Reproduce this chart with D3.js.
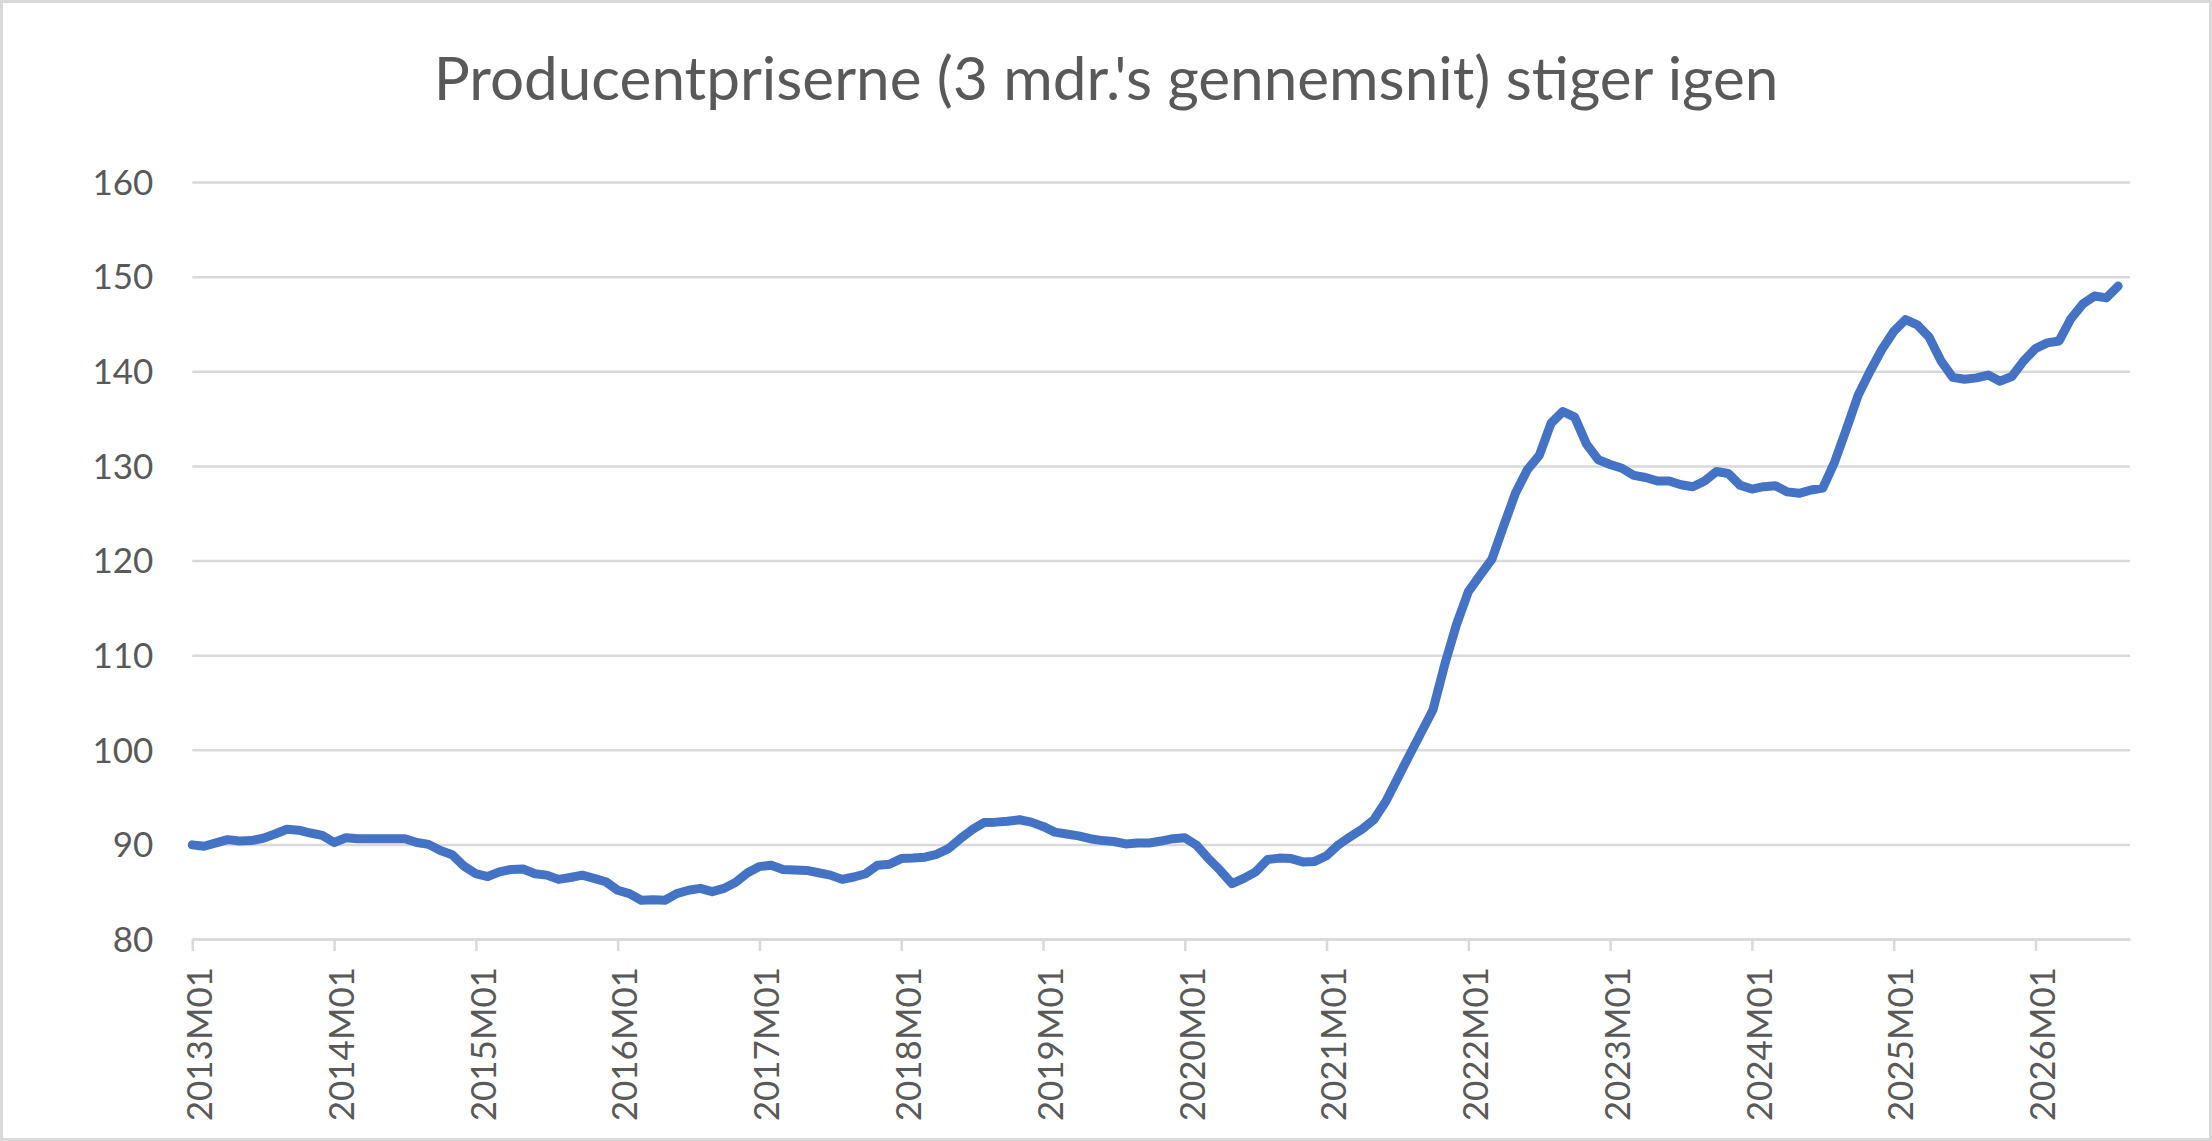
<!DOCTYPE html>
<html>
<head>
<meta charset="utf-8">
<script src="https://cdn.jsdelivr.net/npm/d3@7"></script>
<style>
  html, body { margin: 0; padding: 0; background: #ffffff; }
  svg { display: block; }
</style>
</head>
<body>
<svg id="chart" width="2212" height="1141"></svg>
<script>
// ---------------- DATA ----------------
const titleText = "Producentpriserne (3 mdr.'s gennemsnit) stiger igen";
const years = [2013, 2014, 2015, 2016, 2017, 2018, 2019, 2020, 2021, 2022, 2023, 2024, 2025, 2026];
const months = ["01","02","03","04","05","06","07","08","09","10","11","12"];
// monthly categories 2013M01 .. 2026M09 (last category without a value)
const categories = [];
years.forEach(yr => months.forEach(m => {
  if (!(yr === 2026 && +m > 9)) categories.push(yr + "M" + m);
}));
const tickLabels = ["2013M01","2014M01","2015M01","2016M01","2017M01","2018M01","2019M01",
                    "2020M01","2021M01","2022M01","2023M01","2024M01","2025M01","2026M01"];
const yTicks = [80, 90, 100, 110, 120, 130, 140, 150, 160];

const values2013 = [89.95, 89.8, 90.15, 90.5, 90.35, 90.4, 90.65, 91.1, 91.6, 91.5, 91.2, 90.95];
const values2014 = [90.2, 90.7, 90.6, 90.6, 90.6, 90.6, 90.6, 90.2, 90.0, 89.35, 88.9, 87.7];
const values2015 = [86.9, 86.6, 87.1, 87.35, 87.4, 86.9, 86.75, 86.3, 86.5, 86.75, 86.4, 86.05];
const values2016 = [85.15, 84.8, 84.1, 84.15, 84.1, 84.8, 85.15, 85.35, 85.0, 85.35, 86.0, 87.0];
const values2017 = [87.65, 87.8, 87.35, 87.3, 87.25, 87.0, 86.75, 86.3, 86.55, 86.9, 87.8, 87.9];
const values2018 = [88.5, 88.55, 88.65, 88.95, 89.55, 90.6, 91.55, 92.3, 92.35, 92.45, 92.6, 92.35];
const values2019 = [91.9, 91.3, 91.1, 90.9, 90.6, 90.4, 90.3, 90.05, 90.15, 90.15, 90.35, 90.6];
const values2020 = [90.7, 89.9, 88.5, 87.25, 85.85, 86.4, 87.1, 88.4, 88.55, 88.5, 88.15, 88.2];
const values2021 = [88.8, 89.95, 90.8, 91.6, 92.6, 94.5, 96.95, 99.4, 101.8, 104.2, 109.0, 113.25];
const values2022 = [116.7, 118.45, 120.15, 123.7, 127.15, 129.6, 131.1, 134.5, 135.75, 135.15, 132.3, 130.65];
const values2023 = [130.15, 129.75, 129.0, 128.77, 128.4, 128.4, 128.0, 127.8, 128.4, 129.4, 129.2, 127.95];
const values2024 = [127.55, 127.8, 127.9, 127.25, 127.1, 127.45, 127.65, 130.4, 133.9, 137.5, 140.0, 142.3];
const values2025 = [144.2, 145.45, 144.9, 143.6, 141.1, 139.35, 139.15, 139.3, 139.6, 138.95, 139.45, 141.1];
const values2026 = [142.4, 143.0, 143.2, 145.55, 147.1, 147.95, 147.75, 149.0];

const values = [].concat(values2013, values2014, values2015, values2016, values2017, values2018,
  values2019, values2020, values2021, values2022, values2023, values2024, values2025, values2026);

// ---------------- LAYOUT ----------------
const W = 2212, H = 1141;
const plot = { left: 192.3, right: 2130, top: 182, bottom: 939 };
const textColor = "#595959";
const gridColor = "#d9d9d9";
const lineColor = "#4472c4";
const fontFamily = "Lato, 'Open Sans', 'DejaVu Sans', sans-serif";

const svg = d3.select("#chart");

svg.append("rect")
  .attr("x", 1.5).attr("y", 1.5)
  .attr("width", W - 3).attr("height", H - 3)
  .attr("fill", "#ffffff")
  .attr("stroke", gridColor).attr("stroke-width", 3);

const x = d3.scaleLinear()
  .domain([0, categories.length - 1])
  .range([plot.left, plot.right]);

const y = d3.scaleLinear()
  .domain([80, 160])
  .range([plot.bottom, plot.top]);

// Y axis with gridlines
const yAxisG = svg.append("g")
  .attr("transform", `translate(${plot.left},0)`)
  .call(d3.axisLeft(y)
    .tickValues(yTicks)
    .tickSize(-(plot.right - plot.left))
    .tickPadding(39)
    .tickFormat(d3.format("d")));
yAxisG.select(".domain").remove();
yAxisG.selectAll(".tick line")
  .attr("stroke", gridColor).attr("stroke-width", 2.5);
yAxisG.selectAll(".tick text")
  .attr("fill", textColor)
  .attr("font-family", fontFamily)
  .attr("font-size", 35)
  .attr("dy", "0.35em");

// X axis
const tickIdx = tickLabels.map(l => categories.indexOf(l));
const xAxisG = svg.append("g")
  .attr("transform", `translate(0,${plot.bottom})`)
  .call(d3.axisBottom(x)
    .tickValues(tickIdx)
    .tickSizeInner(12)
    .tickSizeOuter(0)
    .tickFormat(i => categories[i]));
xAxisG.select(".domain")
  .attr("stroke", gridColor).attr("stroke-width", 2.5);
xAxisG.selectAll(".tick line")
  .attr("stroke", gridColor).attr("stroke-width", 2.5);
xAxisG.selectAll(".tick text")
  .attr("fill", textColor)
  .attr("font-family", fontFamily)
  .attr("font-size", 35)
  .attr("text-anchor", "end")
  .attr("transform", "rotate(-90)")
  .attr("x", -28)
  .attr("y", 0)
  .attr("dy", "0.55em");

// Line
const line = d3.line()
  .x((d, i) => x(i))
  .y(d => y(d));

svg.append("path")
  .datum(values)
  .attr("d", line)
  .attr("fill", "none")
  .attr("stroke", lineColor)
  .attr("stroke-width", 9)
  .attr("stroke-linejoin", "round")
  .attr("stroke-linecap", "round");

// Title
const title = svg.append("text")
  .attr("x", W / 2)
  .attr("y", 100)
  .attr("text-anchor", "middle")
  .attr("fill", textColor)
  .attr("font-family", fontFamily)
  .attr("font-size", 60)
  .text(titleText);
const targetWidth = 1345;
const len = title.node().getComputedTextLength();
if (len > 0) title.attr("font-size", 60 * targetWidth / len);
</script>
</body>
</html>
